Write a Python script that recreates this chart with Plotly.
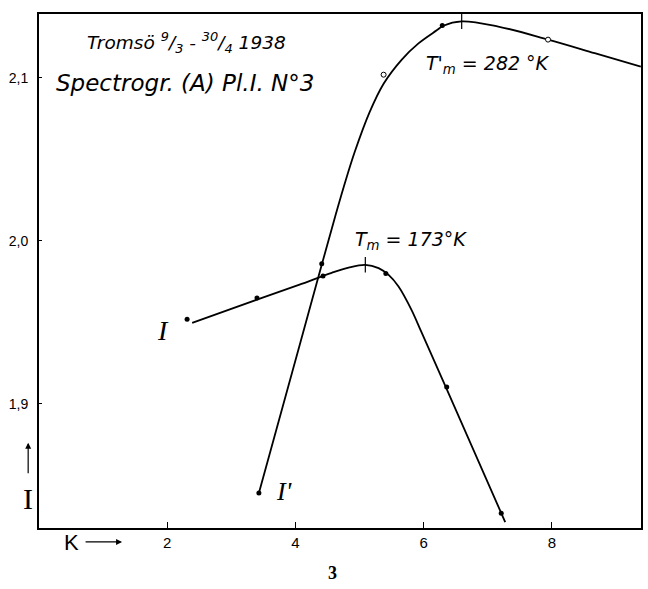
import plotly.graph_objects as go

# ---- data ----
# curve I (drawn smooth line)
i_curve_x = [2.389, 3.40, 4.053, 4.566, 4.83, 5.09, 5.297, 5.453, 5.608, 5.81, 5.966, 6.339, 7.272]
i_curve_y = [1.9497, 1.9639, 1.973, 1.9804, 1.9836, 1.9853, 1.9833, 1.9791, 1.972, 1.9577, 1.9440, 1.9110, 1.8276]
# curve I' (drawn smooth line)
ip_curve_x = [3.43, 3.95, 4.41, 4.624, 4.753, 4.924, 5.157, 5.375, 5.659, 5.919, 6.204, 6.308,
              6.593, 7.163, 7.941, 8.668, 9.387]
ip_curve_y = [1.8454, 1.9196, 1.9853, 2.0155, 2.0330, 2.0544, 2.0789, 2.0963, 2.1111, 2.1210, 2.1290, 2.1318,
              2.1345, 2.1313, 2.1233, 2.1150, 2.1067]

# measured points
i_pts_x = [2.31, 3.40, 4.43, 5.41, 6.36, 7.21]
i_pts_y = [1.952, 1.965, 1.9785, 1.980, 1.9104, 1.833]
ip_filled_x = [3.43, 4.41, 6.29]
ip_filled_y = [1.8454, 1.986, 2.1320]
ip_open_x = [5.375, 7.94]
ip_open_y = [2.1018, 2.1233]

# maxima
peak_x = [5.09, 6.593]
peak_y = [1.9853, 2.1345]

x_ticks = [2, 4, 6, 8]
y_ticks = [1.9, 2.0, 2.1]
y_tick_text = ["1,9", "2,0", "2,1"]

fig = go.Figure()
line_style = dict(color="black", width=1.8, shape="spline", smoothing=1.0)
fig.add_trace(go.Scatter(x=i_curve_x, y=i_curve_y, mode="lines", line=line_style, hoverinfo="skip"))
fig.add_trace(go.Scatter(x=ip_curve_x, y=ip_curve_y, mode="lines", line=line_style, hoverinfo="skip"))
fig.add_trace(go.Scatter(x=i_pts_x + ip_filled_x, y=i_pts_y + ip_filled_y, mode="markers",
                         marker=dict(color="black", size=5, symbol="circle")))
fig.add_trace(go.Scatter(x=ip_open_x, y=ip_open_y, mode="markers",
                         marker=dict(color="white", size=5, symbol="circle",
                                     line=dict(color="black", width=1))))
fig.add_trace(go.Scatter(x=peak_x, y=peak_y, mode="markers",
                         marker=dict(color="black", size=11, symbol="line-ns",
                                     line=dict(color="black", width=1.2))))

ital = dict(family="DejaVu Sans, Liberation Sans", color="black")
serif = dict(family="Liberation Serif, DejaVu Serif", color="black")

annotations = [
    dict(x=0.71, y=2.1215, text="<i>Tromsö <sup>9</sup>/<sub>3</sub> - <sup>30</sup>/<sub>4</sub> 1938</i>",
         font=dict(size=18.5, **ital), xanchor="left"),
    dict(x=0.24, y=2.097, text="<i>Spectrogr. (A) Pl.I. N°3</i>",
         font=dict(size=23, **ital), xanchor="left"),
    dict(x=6.0, y=2.108, text="<i>T'<sub>m</sub> = 282 °K</i>",
         font=dict(size=19, **ital), xanchor="left"),
    dict(x=4.9, y=2.0005, text="<i>T<sub>m</sub> = 173°K</i>",
         font=dict(size=19, **ital), xanchor="left"),
    dict(x=1.94, y=1.945, text="<i>I</i>", font=dict(size=28, **serif)),
    dict(x=3.82, y=1.8465, text="<i>I'</i>", font=dict(size=26, **serif)),
]
for a in annotations:
    a.update(xref="x", yref="y", showarrow=False)
    fig.add_annotation(**a)

# axis labels outside the plot (paper coordinates)
fig.add_annotation(xref="paper", yref="paper", x=-0.018, y=0.166, ax=0, ay=32,
                   axref="pixel", ayref="pixel", text="", showarrow=True,
                   arrowhead=2, arrowsize=1, arrowwidth=1.2, arrowcolor="black")
fig.add_annotation(xref="paper", yref="paper", x=-0.019, y=0.058, text="I",
                   xanchor="center", yanchor="middle",
                   showarrow=False, font=dict(size=30, **serif))
fig.add_annotation(xref="paper", yref="paper", x=0.054, y=-0.029, text="K",
                   xanchor="center", yanchor="middle",
                   showarrow=False, font=dict(size=22, family="Liberation Sans", color="black"))
fig.add_annotation(xref="paper", yref="paper", x=0.138, y=-0.027, ax=-38, ay=0,
                   axref="pixel", ayref="pixel", text="", showarrow=True,
                   arrowhead=2, arrowsize=1, arrowwidth=1.2, arrowcolor="black")
fig.add_annotation(xref="paper", x=0.487, yref="paper", y=-0.0875, text="<b>3</b>",
                   xanchor="center", yanchor="middle",
                   showarrow=False, font=dict(size=18, **serif))

fig.update_layout(
    width=648, height=589,
    margin=dict(l=39, r=5, t=14, b=61),
    paper_bgcolor="white", plot_bgcolor="white",
    showlegend=False,
    xaxis=dict(range=[0, 9.39], tickvals=x_ticks, ticks="inside", ticklen=6, tickwidth=1,
               tickcolor="black", showgrid=False, zeroline=False,
               showline=True, linecolor="black", linewidth=2, mirror=True,
               tickfont=dict(size=15, family="Liberation Sans", color="black")),
    yaxis=dict(range=[1.824, 2.139], tickvals=y_ticks, ticktext=y_tick_text,
               ticks="inside", ticklen=3, tickcolor="black", showgrid=False, zeroline=False,
               showline=True, linecolor="black", linewidth=1.8, mirror=True,
               ticklabelstandoff=6,
               tickfont=dict(size=14, family="Liberation Sans", color="black")),
)

fig.write_html("out.html")
